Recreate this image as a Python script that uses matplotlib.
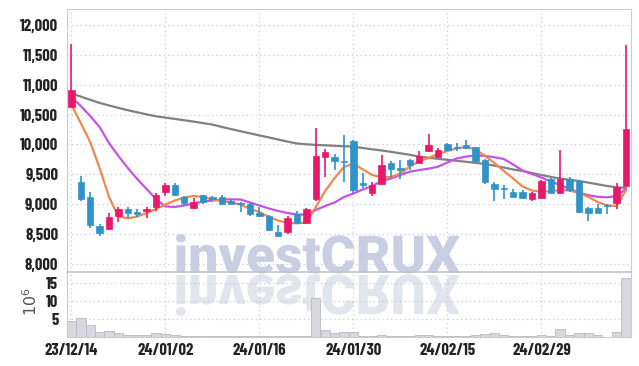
import matplotlib
matplotlib.use("Agg")
import matplotlib.pyplot as plt
import numpy as np
from matplotlib.textpath import TextPath
from matplotlib.patches import PathPatch
from matplotlib.font_manager import FontProperties
import matplotlib.transforms as mtransforms
from matplotlib.ticker import FuncFormatter

# ---------------- data ----------------
tick_labels = ['23/12/14', '24/01/02', '24/01/16', '24/01/30', '24/02/15', '24/02/29']
tick_index = [0, 10, 20, 30, 40, 50]

opens = [10621, 9365, 9114, 8633, 8583, 8806, 8918, 8868, 8885, 8946,
         9208, 9320, 9124, 8930, 9147, 9119, 9119, 9047, 9024, 8997,
         8851, 8800, 8533, 8528, 8829, 8679, 9086, 9794, 9794, 9727,
         10057, 9354, 9181, 9331, 9694, 9600, 9739, 9694, 9890, 9794,
         10007, 9962, 9996, 9950, 9739, 9337, 9275, 9203, 9203, 9080,
         9108, 9420, 9181, 9420, 9387, 8930, 8930, 8985, 9013, 9309]
highs = [11677, 9476, 9208, 8667, 8846, 8957, 8946, 8918, 8957, 9181,
         9359, 9354, 9141, 9100, 9160, 9136, 9152, 9080, 9035, 9030,
         8946, 8817, 8645, 8806, 8885, 8940, 10270, 9918, 9834, 10157,
         10074, 9516, 9376, 9822, 9727, 9739, 9750, 9895, 10169, 9934,
         10024, 10018, 10074, 9960, 9750, 9370, 9320, 9248, 9236, 9197,
         9410, 9443, 9906, 9460, 9410, 8957, 8997, 8997, 9348, 11665]
lows = [10620, 9057, 8595, 8466, 8566, 8705, 8772, 8779, 8762, 8889,
        9141, 9141, 8990, 8910, 9010, 9057, 8980, 8997, 8863, 8806,
        8789, 8550, 8455, 8500, 8667, 8667, 9057, 9459, 9571, 9375,
        9191, 9265, 9136, 9320, 9432, 9415, 9571, 9683, 9878, 9784,
        9890, 9895, 9918, 9710, 9330, 9052, 9080, 9113, 9091, 9052,
        9080, 9181, 9169, 9203, 8857, 8717, 8846, 8829, 8918, 9300]
closes = [10911, 9086, 8655, 8521, 8789, 8918, 8856, 8840, 8918, 9152,
          9325, 9158, 9013, 9040, 9030, 9086, 9002, 9007, 8997, 8840,
          8806, 8571, 8471, 8762, 8679, 8913, 9806, 9873, 9717, 9710,
          9236, 9315, 9320, 9655, 9593, 9576, 9660, 9806, 9990, 9906,
          9906, 9940, 9940, 9730, 9375, 9253, 9258, 9124, 9108, 9186,
          9387, 9191, 9420, 9236, 8873, 8846, 8856, 8968, 9292, 10253]
volumes = [4.6, 5.3, 3.4, 1.5, 1.75, 1.2, 0.55, 0.55, 0.55, 1.2,
           0.9, 0.55, 0.3, 0.3, 0.3, 0.3, 0.3, 0.3, 0.3, 0.3,
           0.3, 0.3, 0.3, 0.3, 0.3, 0.3, 10.8, 2.0, 1.3, 1.5,
           1.5, 0.3, 0.3, 0.55, 0.3, 0.3, 0.3, 0.55, 0.55, 0.3,
           0.3, 0.3, 0.3, 0.55, 0.9, 1.2, 0.55, 0.3, 0.3, 0.3,
           0.55, 0.3, 2.3, 0.55, 1.2, 1.2, 0.55, 0.2, 1.5, 16.4]
ma_short = [10660, 10358, 10040, 9605, 9119, 8792, 8762, 8792, 8851, 8918,
            8993, 9060, 9111, 9136, 9119, 9077, 9052, 9027, 8993, 8918,
            8868, 8784, 8725, 8684, 8679, 8692, 8952, 9220, 9437, 9622,
            9680, 9580, 9488, 9449, 9454, 9513, 9630, 9722, 9772, 9839,
            9890, 9935, 9957, 9915, 9806, 9689, 9555, 9429, 9295, 9228,
            9208, 9216, 9236, 9228, 9186, 9119, 9035, 8977, 8968, 9236]
ma_mid = [10794, 10643, 10476, 10291, 10023, 9806, 9605, 9420, 9253, 9086,
          8961, 8952, 8977, 9010, 9044, 9060, 9077, 9080, 9077, 9027,
          8977, 8927, 8885, 8851, 8826, 8826, 8902, 8969, 9027, 9119,
          9178, 9245, 9303, 9389, 9429, 9488, 9543, 9571, 9594, 9627,
          9697, 9766, 9796, 9816, 9806, 9786, 9755, 9663, 9562, 9504,
          9446, 9379, 9320, 9253, 9194, 9149, 9122, 9114, 9136, 9253]
ma_long = [10856, 10801, 10747, 10695, 10653, 10611, 10573, 10538, 10503, 10471,
           10449, 10427, 10405, 10382, 10357, 10332, 10293, 10256, 10221, 10186,
           10151, 10117, 10082, 10047, 10015, 10002, 9992, 9985, 9977, 9970,
           9962, 9940, 9918, 9898, 9876, 9851, 9826, 9797, 9776, 9759,
           9742, 9725, 9709, 9692, 9672, 9645, 9613, 9580, 9555, 9521,
           9488, 9456, 9427, 9407, 9387, 9360, 9332, 9303, 9283, 9270]

# ---------------- style ----------------
UP = '#e8196b'
DOWN = '#2f93c8'
GRID = '#c6cbe0'
SPINE = '#c8cad4'
TXT = '#222222'
tick_fp = FontProperties(family=['Barlow Condensed', 'DejaVu Sans'], weight='bold', size=12)

W, H, DPI = 639, 366, 100
fig = plt.figure(figsize=(W / DPI, H / DPI), dpi=DPI, facecolor='white')

L, R = 66.7, 630.7
T1, B1 = 9.3, 272.3
B2 = 337.3
ax = fig.add_axes([L / W, (H - B1) / H, (R - L) / W, (B1 - T1) / H])
axv = fig.add_axes([L / W, (H - B2) / H, (R - L) / W, (B2 - B1) / H], sharex=ax)
for a in (ax, axv):
    a.set_facecolor('none')

# watermark (behind axes) with its reflection
fp = FontProperties(family=['Roboto', 'DejaVu Sans'], weight=900)
tp = TextPath((0, 0), 'investCRUX', size=1, prop=fp)
bb = tp.get_extents()
x0, x1 = 176, 460
base = H - 273
sx = (x1 - x0) / bb.width
sy = 39 / bb.y1
tr_main = mtransforms.Affine2D().translate(-bb.x0, 0).scale(sx, sy).translate(x0, base)
tr_ref = mtransforms.Affine2D().translate(-bb.x0, 0).scale(sx, -sy * 1.05).translate(x0, base - 2)
p1 = PathPatch(tp, transform=tr_main, facecolor='#c9cee2', edgecolor='none', zorder=-5)
p2 = PathPatch(tp, transform=tr_ref, facecolor='#e3e5ed', edgecolor='none', zorder=-6)
fig.add_artist(p2)
fig.add_artist(p1)

n = len(closes)
x = np.arange(n)

# moving averages
ax.plot(x, ma_long, color='#808080', lw=1.6, zorder=2, solid_capstyle='round')
ax.plot(x, ma_mid, color='#c652e6', lw=1.6, zorder=2, solid_capstyle='round')
ax.plot(x, ma_short, color='#f0884e', lw=1.6, zorder=2, solid_capstyle='round')

# candles
o = np.array(opens, float); c = np.array(closes, float)
h = np.array(highs, float); lo = np.array(lows, float)
colors = [UP if cc >= oo else DOWN for oo, cc in zip(o, c)]
ax.vlines(x, lo, h, colors=colors, lw=1.2, zorder=3)
body_lo = np.minimum(o, c)
body_h = np.maximum(np.abs(c - o), 18)
ax.bar(x, body_h, bottom=body_lo, width=0.68, color=colors, edgecolor=colors, lw=0.5, zorder=4)

ax.set_xlim(-0.5, n - 0.5)
ax.set_ylim(7858, 12263)
ax.set_yticks(np.arange(8000, 12001, 500))
ax.yaxis.set_major_formatter(FuncFormatter(lambda v, p: f'{int(v):,}'))
ax.set_xticks(tick_index)
ax.tick_params(axis='x', length=0, labelbottom=False)
ax.tick_params(axis='y', length=0, pad=6, labelcolor=TXT)
for lab in ax.get_yticklabels():
    lab.set_fontproperties(tick_fp)
ax.grid(True, linestyle=(0, (1, 2.5)), color=GRID, lw=0.9)
ax.set_axisbelow(True)
for s in ['left', 'top', 'right']:
    ax.spines[s].set_color(SPINE)
ax.spines['bottom'].set_color('#c4c4c8')
ax.spines['bottom'].set_linewidth(1.2)

# volume
axv.bar(x, volumes, width=1.0, color='#d7d7dd', edgecolor='#b9b9c3', lw=0.6, zorder=2)
axv.set_ylim(0, 18.06)
axv.set_yticks([5, 10, 15])
axv.set_xticks(tick_index)
axv.set_xticklabels(tick_labels)
axv.tick_params(axis='both', length=0, labelcolor=TXT)
axv.tick_params(axis='y', pad=6)
axv.tick_params(axis='x', pad=4)
for lab in axv.get_yticklabels() + axv.get_xticklabels():
    lab.set_fontproperties(tick_fp)
axv.grid(True, linestyle=(0, (1, 2.5)), color=GRID, lw=0.9)
axv.set_axisbelow(True)
axv.spines['top'].set_visible(False)
for s in ['left', 'right', 'bottom']:
    axv.spines[s].set_color(SPINE)

fig.text(31 / W, (H - 302) / H, r'$10^6$', rotation=90, ha='center', va='center',
         fontsize=11.5, color='#555555')

fig.savefig('out.png', dpi=DPI, facecolor='white')
